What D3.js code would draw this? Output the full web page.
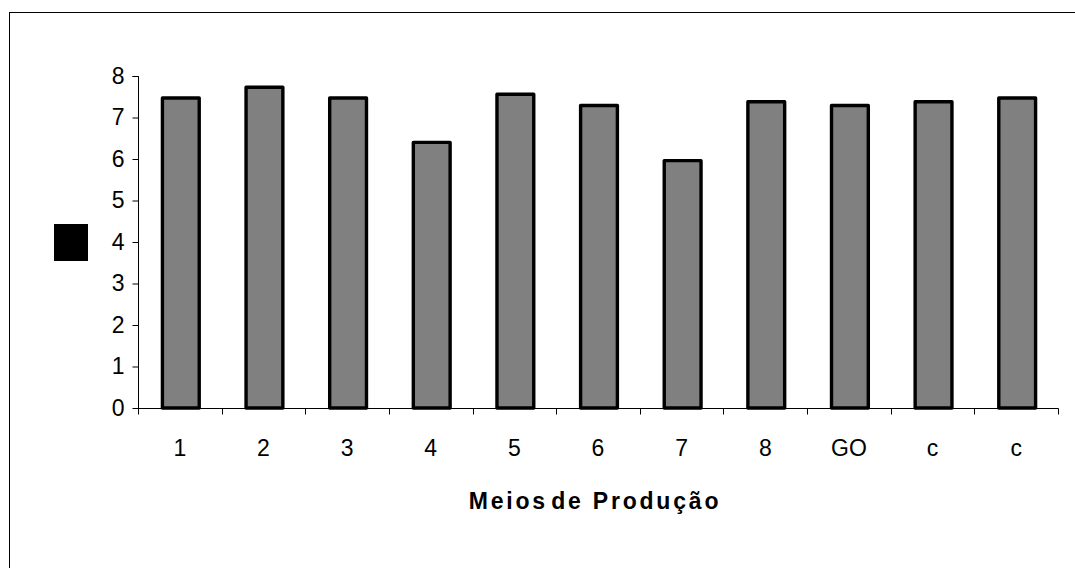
<!DOCTYPE html>
<html>
<head>
<meta charset="utf-8">
<script src="https://cdn.jsdelivr.net/npm/d3@7/dist/d3.min.js"></script>
<style>
  html, body { margin: 0; padding: 0; background: #fff; }
  svg { display: block; font-family: "Liberation Sans", Arial, sans-serif; }
</style>
</head>
<body>
<svg id="chart" width="1075" height="568"></svg>
<script>
// Production means and their scores
const categories = ["1", "2", "3", "4", "5", "6", "7", "8", "GO", "c", "c"];
const values = [7.47, 7.73, 7.47, 6.40, 7.56, 7.29, 5.96, 7.38, 7.29, 7.38, 7.47];
const yTicks = [0, 1, 2, 3, 4, 5, 6, 7, 8];
const xTitle = "Meios de Produção";

const svg = d3.select("#chart");

// outer chart frame (runs past the visible area on the right and bottom)
svg.append("rect")
  .attr("x", 9.5).attr("y", 12.5)
  .attr("width", 1200).attr("height", 700)
  .attr("fill", "none").attr("stroke", "#000").attr("stroke-width", 1);

const plot = { left: 138, right: 1058, top: 76, bottom: 408 };

const x = d3.scaleBand()
  .domain(d3.range(categories.length))
  .range([plot.left, plot.right])
  .paddingInner(0.56)
  .paddingOuter(0.28);

const y = d3.scaleLinear()
  .domain([0, 8])
  .range([plot.bottom, plot.top]);

// bars
svg.append("g")
  .selectAll("rect")
  .data(values)
  .join("rect")
  .attr("x", (d, i) => x(i) + 1)
  .attr("y", d => y(d))
  .attr("width", x.bandwidth())
  .attr("height", d => y(0) - y(d))
  .attr("fill", "#808080")
  .attr("stroke", "#000")
  .attr("stroke-width", 3.4)
  .attr("stroke-linejoin", "round");

// y axis
const yAxis = svg.append("g")
  .attr("transform", `translate(${plot.left + 0.5},0)`)
  .call(d3.axisLeft(y).tickValues(yTicks).tickFormat(d3.format("d")).tickSize(6).tickPadding(8));
yAxis.select(".domain").attr("stroke", "#000").attr("d", `M-6,${y(8) + 0.5}H0V${y(0) + 0.5}`);
yAxis.selectAll(".tick line").attr("stroke", "#000");
yAxis.selectAll(".tick text")
  .attr("font-size", 23).attr("fill", "#000")
  .attr("font-family", "'Liberation Sans', Arial, sans-serif");

// x axis: baseline, boundary ticks and category labels
const xAxis = svg.append("g")
  .attr("transform", `translate(0,${plot.bottom + 0.5})`)
  .call(d3.axisBottom(x).tickFormat(i => categories[i]).tickSize(0).tickPadding(31));
xAxis.select(".domain").attr("stroke", "#000").attr("d", `M${plot.left},0H${plot.right + 0.5}`);
xAxis.selectAll(".tick text")
  .attr("font-size", 23).attr("fill", "#000")
  .attr("font-family", "'Liberation Sans', Arial, sans-serif");

const step = x.step();
const bounds = d3.range(categories.length + 1).map(i => plot.left + i * step);
xAxis.selectAll("line.bound")
  .data(bounds)
  .join("line")
  .attr("class", "bound")
  .attr("x1", d => Math.round(d) + 0.5).attr("x2", d => Math.round(d) + 0.5)
  .attr("y1", 0).attr("y2", 6)
  .attr("stroke", "#000");

// y-axis title marker
svg.append("rect")
  .attr("x", 54).attr("y", 224)
  .attr("width", 34).attr("height", 37)
  .attr("fill", "#000");

// x-axis title
const title = svg.append("text")
  .attr("x", (plot.left + plot.right) / 2 - 3)
  .attr("y", 509)
  .attr("text-anchor", "middle")
  .attr("font-size", 23)
  .attr("font-weight", "bold")
  .attr("letter-spacing", 2.8)
  .attr("fill", "#000");
title.append("tspan").text("Meios");
title.append("tspan").attr("dx", -6).text(" de Produção");
</script>
</body>
</html>
